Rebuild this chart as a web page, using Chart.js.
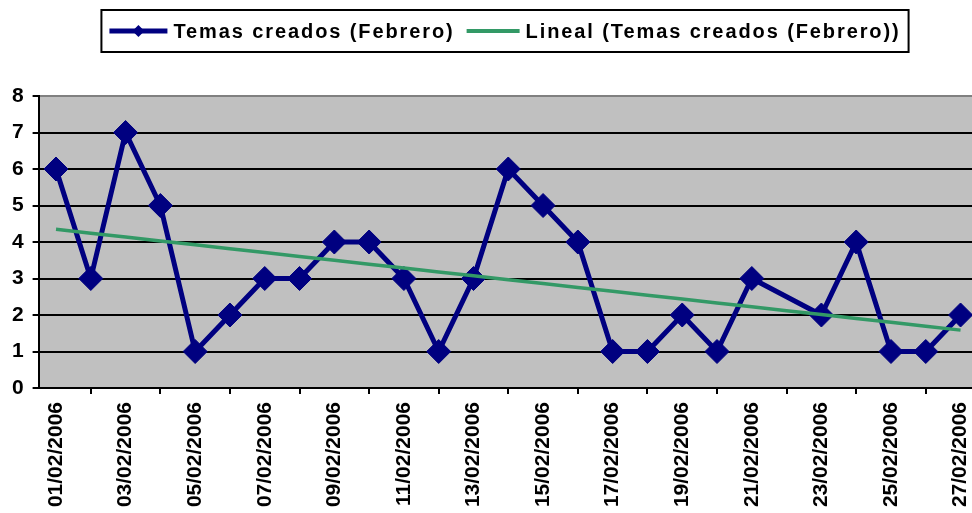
<!DOCTYPE html>
<html>
<head>
<meta charset="utf-8">
<script src="https://cdn.jsdelivr.net/npm/chart.js@4.4.0/dist/chart.umd.min.js"></script>
<style>
html,body{margin:0;padding:0;background:#fff;overflow:hidden;width:972px;height:513px;}
canvas{display:block;}
</style>
</head>
<body>
<canvas id="c" width="994" height="513"></canvas>
<script>
// ---- data ----
const categories = ["01/02/2006","02/02/2006","03/02/2006","04/02/2006","05/02/2006","06/02/2006","07/02/2006","08/02/2006","09/02/2006","10/02/2006","11/02/2006","12/02/2006","13/02/2006","14/02/2006","15/02/2006","16/02/2006","17/02/2006","18/02/2006","19/02/2006","20/02/2006","21/02/2006","22/02/2006","23/02/2006","24/02/2006","25/02/2006","26/02/2006","27/02/2006"];
const temasCreados = [6,3,7,5,1,2,3,3,4,4,3,1,3,6,5,4,1,1,2,1,3,null,2,4,1,1,2];
const yTicks = [0,1,2,3,4,5,6,7,8];
const seriesName = "Temas creados (Febrero)";
const trendName = "Lineal (Temas creados (Febrero))";

// linear trend (least squares on day index)
function linearTrend(vals){
  let n=0,sx=0,sy=0,sxx=0,sxy=0;
  vals.forEach((v,i)=>{ if(v===null) return; const x=i+1; n++; sx+=x; sy+=v; sxx+=x*x; sxy+=x*v; });
  const b=(n*sxy-sx*sy)/(n*sxx-sx*sx); const a=(sy-b*sx)/n;
  return vals.map((v,i)=>a+b*(i+1));
}
const trend = linearTrend(temasCreados);

const NAVY="#000080", GREEN="#339966";
const FONT="'Liberation Sans', Arial, sans-serif";

const bgPlugin={
  id:'bg',
  beforeDraw(chart){
    const {ctx,chartArea:a}=chart;
    ctx.save(); ctx.fillStyle="#C0C0C0"; ctx.fillRect(a.left,a.top,a.right-a.left,a.bottom-a.top); ctx.restore();
  }
};

const legendPlugin={
  id:'customLegend',
  afterDraw(chart){
    const ctx=chart.ctx;
    ctx.save();
    ctx.font="bold 20px "+FONT;
    ctx.letterSpacing="1.9px";
    const w1=ctx.measureText(seriesName).width, w2=ctx.measureText(trendName).width;
    const line1=58, line2=53, g=6, gap=12;
    const inner=line1+g+w1+gap+line2+g+w2;
    const boxW=inner+16, boxH=42;
    const boxX=505-boxW/2, boxY=10;
    ctx.fillStyle="#fff"; ctx.fillRect(boxX,boxY,boxW,boxH);
    ctx.lineWidth=2; ctx.strokeStyle="#000"; ctx.strokeRect(boxX,boxY,boxW,boxH);
    const cy=boxY+boxH/2;
    let x=boxX+8;
    ctx.strokeStyle=NAVY; ctx.lineWidth=5; ctx.lineCap="butt";
    ctx.beginPath(); ctx.moveTo(x,cy); ctx.lineTo(x+line1,cy); ctx.stroke();
    ctx.fillStyle=NAVY; const mx=x+line1/2, r=6;
    ctx.beginPath(); ctx.moveTo(mx,cy-r); ctx.lineTo(mx+r,cy); ctx.lineTo(mx,cy+r); ctx.lineTo(mx-r,cy); ctx.closePath(); ctx.fill();
    x+=line1+g;
    ctx.fillStyle="#000"; ctx.textBaseline="middle"; ctx.textAlign="left";
    ctx.fillText(seriesName,x,cy+1);
    x+=w1+gap;
    ctx.strokeStyle=GREEN; ctx.lineWidth=4;
    ctx.beginPath(); ctx.moveTo(x,cy); ctx.lineTo(x+line2,cy); ctx.stroke();
    x+=line2+g;
    ctx.fillText(trendName,x,cy+1);
    ctx.restore();
  }
};

new Chart(document.getElementById('c'),{
  type:'line',
  data:{
    labels:categories,
    datasets:[
      {label:seriesName,data:temasCreados,borderColor:NAVY,backgroundColor:NAVY,borderWidth:5,
       pointStyle:'rectRot',pointRadius:12,pointBorderWidth:1,pointBackgroundColor:NAVY,pointBorderColor:NAVY,
       spanGaps:true,tension:0,order:1},
      {label:trendName,data:trend,borderColor:GREEN,borderWidth:3.5,pointRadius:0,tension:0,order:0}
    ]
  },
  options:{
    responsive:false,animation:false,
    layout:{padding:{top:96,right:0,left:0,bottom:0}},
    plugins:{legend:{display:false},tooltip:{enabled:false}},
    scales:{
      x:{
        offset:true,
        grid:{offset:true,drawOnChartArea:false,color:'#000',lineWidth:2,tickLength:6},
        border:{color:'#000',width:2},
        ticks:{autoSkip:false,maxRotation:90,minRotation:90,padding:8,color:'#000',
          font:{family:FONT,size:21,weight:'bold'},
          callback:function(v,i){return i%2===0?categories[i]:null;}},
        afterFit(s){s.height=125;}
      },
      y:{
        min:yTicks[0],max:yTicks[yTicks.length-1],
        afterBuildTicks(s){s.ticks=yTicks.map(v=>({value:v}));},
        grid:{color:(c)=>c.tick&&c.tick.value===8?'#808080':'#000',tickColor:'#000',lineWidth:2,tickLength:6},
        border:{color:'#000',width:2},
        ticks:{padding:9,color:'#000',font:{family:FONT,size:21,weight:'bold'}},
        afterFit(s){s.width=38.6;}
      }
    }
  },
  plugins:[bgPlugin,legendPlugin]
});
</script>
</body>
</html>
